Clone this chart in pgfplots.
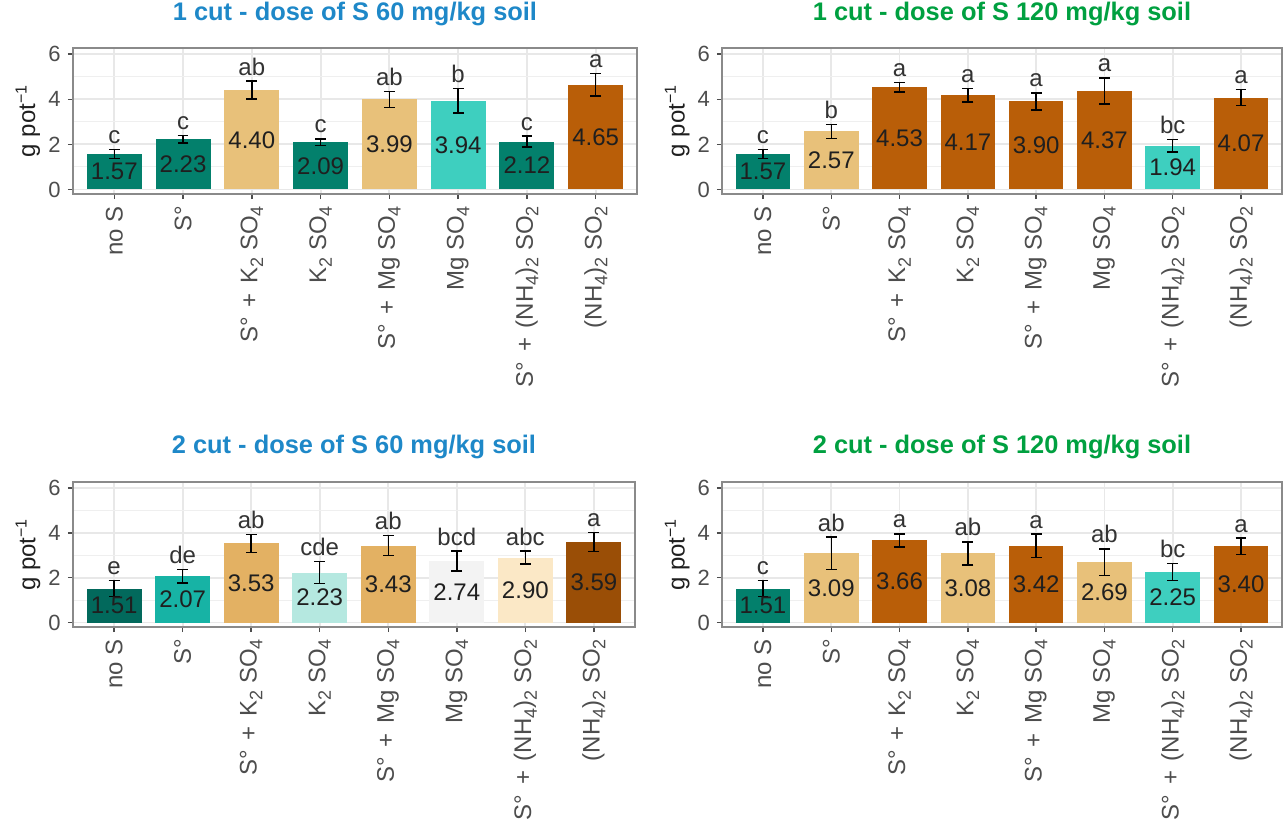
\documentclass[border=0pt]{standalone}
\usepackage{fontspec}
\setmainfont{Liberation Sans}
\usepackage{pgfplots}
\pgfplotsset{compat=1.18}
\usetikzlibrary{calc}

% palette
\definecolor{tealdark}{HTML}{03806C}
\definecolor{tealdeep}{HTML}{02695C}
\definecolor{tealmid}{HTML}{17B3A5}
\definecolor{turq}{HTML}{3ECFBF}
\definecolor{tealpale}{HTML}{B5E8E0}
\definecolor{greypale}{HTML}{F3F3F3}
\definecolor{creampale}{HTML}{FBE8C6}
\definecolor{tan}{HTML}{E8C17A}
\definecolor{tandeep}{HTML}{E3B163}
\definecolor{brown}{HTML}{B95E08}
\definecolor{browndeep}{HTML}{9A4E06}
\definecolor{titleblue}{HTML}{1E88C8}
\definecolor{titlegreen}{HTML}{00A040}
\definecolor{tickgray}{HTML}{4D4D4D}
\definecolor{framegray}{HTML}{8A8A8A}
\definecolor{gridgray}{HTML}{E8E8E8}

\newcommand{\valfont}{\fontsize{12}{14}\selectfont}
% chemical subscripts in tick labels
\newcommand{\sub}[1]{\raisebox{-0.45ex}{\fontsize{9}{10}\selectfont #1}}
\newcommand{\plus}{\hspace{0.4em}+\hspace{0.4em}}

% one bar: x, mean, error, fill colour, group letters
\newcommand{\drawbar}[5]{%
  \addplot[ybar, bar width=0.8, bar shift=0pt, fill=#4, draw=none,
    error bars/.cd, y dir=both, y explicit,
    error bar style={black, line width=0.75pt},
    error mark options={rotate=90, black, line width=0.75pt, mark size=2.7pt}]
    coordinates {(#1,#2) +- (0,#3)};
  \node[font=\valfont, text=black!88, inner sep=0pt]
    at ($(axis cs:#1,0)!0.5!(axis cs:#1,#2)$) {#2};
  \node[font=\valfont, text=black!80, anchor=base, inner sep=0pt, yshift=3pt]
    at ($(axis cs:#1,#2)+(axis direction cs:0,#3)$) {#5};
}

\pgfplotsset{
  panel/.style={
    anchor=south west,
    scale only axis,
    height=73pt,
    xmin=-0.6, xmax=7.6,
    ymin=-0.2, ymax=6.27,
    xtick={0,...,7},
    xticklabels={
      {no S},
      {S°},
      {S°\plus K\sub{2} SO\sub{4}},
      {K\sub{2} SO\sub{4}},
      {S°\plus Mg SO\sub{4}},
      {Mg SO\sub{4}},
      {S°\plus (NH\sub{4})\sub{2} SO\sub{2}},
      {(NH\sub{4})\sub{2} SO\sub{2}}},
    ytick={0,2,4,6},
    minor ytick={1,3,5},
    xmajorgrids, ymajorgrids, yminorgrids,
    major grid style={draw=gridgray, line width=0.9pt},
    minor grid style={draw=gridgray!70, line width=0.5pt},
    axis line style={draw=framegray, line width=0.8pt},
    tick align=outside,
    major tick length=2.6pt,
    minor tick length=0pt,
    tick style={draw=tickgray, line width=0.7pt},
    xtick pos=left, ytick pos=left,
    xticklabel style={rotate=90, anchor=east, text=tickgray,
      font=\fontsize{12}{14}\selectfont},
    yticklabel style={text=tickgray, font=\fontsize{11}{13}\selectfont},
    /pgf/number format/assume math mode=true,
    ylabel={g pot\textsuperscript{−1}},
    ylabel style={at={(axis description cs:-0.08,0.5)}, anchor=center,
      font=\fontsize{12}{14}\selectfont, text=black!88},
    title style={at={(axis description cs:0.5,1)}, anchor=base, yshift=7.5pt,
      font=\bfseries\fontsize{12.7}{14}\selectfont},
  },
}

\begin{document}
\begin{tikzpicture}
\path[use as bounding box] (0,0) rectangle (643.5pt,415pt);

% first cut, 60 mg/kg
\begin{axis}[panel, at={(36.5pt,318pt)}, width=282pt,
  title={1 cut - dose of S 60 mg/kg soil}, title style={text=titleblue}]
\drawbar{0}{1.57}{0.20}{tealdark}{c}
\drawbar{1}{2.23}{0.17}{tealdark}{c}
\drawbar{2}{4.40}{0.40}{tan}{ab}
\drawbar{3}{2.09}{0.15}{tealdark}{c}
\drawbar{4}{3.99}{0.35}{tan}{ab}
\drawbar{5}{3.94}{0.54}{turq}{b}
\drawbar{6}{2.12}{0.24}{tealdark}{c}
\drawbar{7}{4.65}{0.50}{brown}{a}
\end{axis}

% first cut, 120 mg/kg
\begin{axis}[panel, at={(361pt,318pt)}, width=280pt,
  title={1 cut - dose of S 120 mg/kg soil}, title style={text=titlegreen}]
\drawbar{0}{1.57}{0.20}{tealdark}{c}
\drawbar{1}{2.57}{0.30}{tan}{b}
\drawbar{2}{4.53}{0.22}{brown}{a}
\drawbar{3}{4.17}{0.30}{brown}{a}
\drawbar{4}{3.90}{0.38}{brown}{a}
\drawbar{5}{4.37}{0.58}{brown}{a}
\drawbar{6}{1.94}{0.28}{turq}{bc}
\drawbar{7}{4.07}{0.35}{brown}{a}
\end{axis}

% second cut, 60 mg/kg
\begin{axis}[panel, at={(36.5pt,101.5pt)}, width=281pt, height=72.5pt,
  title={2 cut - dose of S 60 mg/kg soil}, title style={text=titleblue, yshift=0.5pt}]
\drawbar{0}{1.51}{0.36}{tealdeep}{e}
\drawbar{1}{2.07}{0.30}{tealmid}{de}
\drawbar{2}{3.53}{0.40}{tandeep}{ab}
\drawbar{3}{2.23}{0.50}{tealpale}{cde}
\drawbar{4}{3.43}{0.45}{tandeep}{ab}
\drawbar{5}{2.74}{0.45}{greypale}{bcd}
\drawbar{6}{2.90}{0.28}{creampale}{abc}
\drawbar{7}{3.59}{0.42}{browndeep}{a}
\end{axis}

% second cut, 120 mg/kg
\begin{axis}[panel, at={(361pt,101.5pt)}, width=280pt, height=72.5pt,
  title={2 cut - dose of S 120 mg/kg soil}, title style={text=titlegreen, yshift=0.5pt}]
\drawbar{0}{1.51}{0.36}{tealdark}{c}
\drawbar{1}{3.09}{0.72}{tan}{ab}
\drawbar{2}{3.66}{0.30}{brown}{a}
\drawbar{3}{3.08}{0.52}{tan}{ab}
\drawbar{4}{3.42}{0.52}{brown}{a}
\drawbar{5}{2.69}{0.60}{tan}{ab}
\drawbar{6}{2.25}{0.38}{turq}{bc}
\drawbar{7}{3.40}{0.36}{brown}{a}
\end{axis}
\end{tikzpicture}
\end{document}
